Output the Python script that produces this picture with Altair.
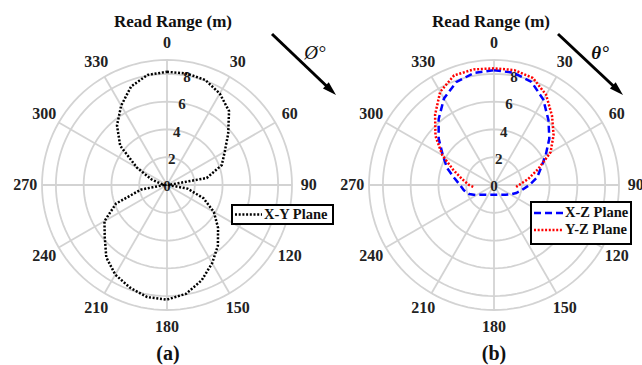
import numpy as np
import pandas as pd
import altair as alt

# ---------------- data ----------------
THETA_XY = list(range(0, 361, 10))
R_XY = [8.15, 8.15, 8.05, 7.6, 6.95, 5.75, 4.8, 4.2, 2.9, 0.1,
        1.5, 2.8, 3.9, 4.8, 5.7, 6.5, 7.3, 7.95, 8.25, 8.2,
        7.85, 7.45, 6.8, 5.85, 5.2, 3.9, 1.9, 0.2, 0.4, 1.2,
        2.5, 4.4, 5.6, 6.6, 7.55, 8.05, 8.15]

THETA_XZ = list(range(0, 361, 10))
R_XZ = [8.27, 8.2, 7.9, 7.1, 6.1, 5.2, 4.3, 3.6, 3.15, 2.55,
        2.05, 1.7, 1.35, 1.1, 0.92, 0.82, 0.75, 0.72, 0.7, 0.72,
        0.75, 0.82, 0.92, 1.08, 1.45, 1.9, 2.2, 2.45, 2.9, 3.6,
        4.25, 5.2, 6.2, 7.2, 7.9, 8.2, 8.27]

THETA_YZ = [-95, -90, -80, -70, -60, -50, -40, -30, -20, -10, 0,
            10, 20, 30, 40, 50, 60, 70, 80, 90, 95]
R_YZ = [1.5, 1.8, 2.3, 3.1, 4.3, 5.5, 6.6, 7.75, 8.4, 8.45, 8.4,
        8.4, 8.2, 7.5, 6.5, 5.6, 4.7, 3.4, 2.5, 1.8, 1.6]

SERIES = ["X-Y Plane", "X-Z Plane", "Y-Z Plane"]
COLORS = ["#000000", "#0000ff", "#ff0000"]
DASHES = [[2, 1.7], [7, 4], [2, 1.7]]

RING_R = [2, 4, 6, 8]
R_MAX = 9
SPOKES = list(range(0, 360, 30))
PANEL_LABELS = ["(a)", "(b)"]
TITLE = "Read Range (m)"

# ---------------- layout ----------------
W, H = 642, 365
K = 125 / 9.0                 # pixels per metre
CXA, CXB, CY = 167, 494, 185  # pixel centres of the two polar plots
OFF = (CXB - CXA) / K         # panel offset in data units
XDOM = [-CXA / K, (W - CXA) / K]
YDOM = [-(H - CY) / K, CY / K]
FONT = "Liberation Serif"


def to_xy(theta, r, off):
    t = np.deg2rad(np.asarray(theta, dtype=float))
    r = np.asarray(r, dtype=float)
    return off + r * np.sin(t), r * np.cos(t)


xs = alt.X("x:Q", scale=alt.Scale(domain=XDOM, nice=False, zero=False), axis=None)
ys = alt.Y("y:Q", scale=alt.Scale(domain=YDOM, nice=False, zero=False), axis=None)

# grid rings
rows = []
ang = np.arange(0, 361, 3)
for p, off in enumerate([0.0, OFF]):
    for rr in RING_R + [R_MAX]:
        gx, gy = to_xy(ang, np.full(len(ang), rr), off)
        for i, (a, b) in enumerate(zip(gx, gy)):
            rows.append({"ring": f"{p}-{rr}", "i": i, "x": a, "y": b})
rings_df = pd.DataFrame(rows)
rings = alt.Chart(rings_df).mark_line(color="#d3d3d3", strokeWidth=1.8).encode(
    x=xs, y=ys, detail="ring:N", order="i:Q")

# spokes
rows = []
for off in [0.0, OFF]:
    x1, y1 = to_xy(SPOKES, np.zeros(len(SPOKES)), off)
    x2, y2 = to_xy(SPOKES, np.full(len(SPOKES), R_MAX), off)
    for a, b, c, d in zip(x1, y1, x2, y2):
        rows.append({"x": a, "y": b, "x2": c, "y2": d})
spokes = alt.Chart(pd.DataFrame(rows)).mark_rule(color="#d3d3d3", strokeWidth=1.8).encode(
    x=xs, y=ys, x2="x2:Q", y2="y2:Q")

# angle labels
rows = []
for off in [0.0, OFF]:
    lx, ly = to_xy(SPOKES, np.full(len(SPOKES), 10.2), off)
    for a, b, s in zip(lx, ly, SPOKES):
        rows.append({"x": a, "y": b, "t": str(s)})
ang_labels = alt.Chart(pd.DataFrame(rows)).mark_text(
    font=FONT, fontWeight="bold", fontSize=16, color="#222222",
    align="center", baseline="middle").encode(x=xs, y=ys, text="t:N")

# ring labels
rows = []
for off in [0.0, OFF]:
    lx, ly = to_xy([10.5] * len(RING_R), [v - 0.1 for v in RING_R], off)
    for a, b, s in zip(lx, ly, RING_R):
        rows.append({"x": a, "y": b, "t": str(s)})
    rows.append({"x": off, "y": -0.05, "t": "0"})
ring_labels = alt.Chart(pd.DataFrame(rows)).mark_text(
    font=FONT, fontWeight="bold", fontSize=15, color="#222222",
    align="center", baseline="middle").encode(x=xs, y=ys, text="t:N")

# data curves
parts = []
for name, th, rr, off in [(SERIES[0], THETA_XY, R_XY, 0.0),
                          (SERIES[1], THETA_XZ, R_XZ, OFF),
                          (SERIES[2], THETA_YZ, R_YZ, OFF)]:
    cx, cy = to_xy(th, rr, off)
    parts.append(pd.DataFrame({"series": name, "i": range(len(th)), "x": cx, "y": cy}))
curves_df = pd.concat(parts, ignore_index=True)
curves = alt.Chart(curves_df).mark_line(strokeWidth=2.5, strokeCap="butt").encode(
    x=xs, y=ys, order="i:Q",
    color=alt.Color("series:N", scale=alt.Scale(domain=SERIES, range=COLORS), legend=None),
    strokeDash=alt.StrokeDash("series:N", scale=alt.Scale(domain=SERIES, range=DASHES), legend=None),
)

one = pd.DataFrame({"a": [0]})

# titles and panel labels
texts = []
for tx, px in [(TITLE, 173), (TITLE, 491)]:
    texts.append(alt.Chart(one).mark_text(font=FONT, fontWeight="bold", fontSize=17,
                                          color="#111111", align="center", baseline="middle")
                 .encode(x=alt.value(px), y=alt.value(22), text=alt.value(tx)))
for tx, px in zip(PANEL_LABELS, [168, 494]):
    texts.append(alt.Chart(one).mark_text(font=FONT, fontWeight="bold", fontSize=20,
                                          color="#111111", align="center", baseline="middle")
                 .encode(x=alt.value(px), y=alt.value(354), text=alt.value(tx)))

# legends
legend_layers = []
for (x0, y0, x1, y1) in [(232, 205, 333, 224), (531, 202, 631, 244)]:
    legend_layers.append(alt.Chart(one).mark_rect(fill="white", stroke="black", strokeWidth=2).encode(
        x=alt.value(x0), x2=alt.value(x1), y=alt.value(y0), y2=alt.value(y1)))
for s, (lx0, lx1, ly) in zip(SERIES, [(235, 262, 214.5), (534, 563, 213), (534, 563, 230)]):
    k = SERIES.index(s)
    legend_layers.append(alt.Chart(one).mark_rule(color=COLORS[k], strokeWidth=2.6,
                                                  strokeDash=DASHES[k], strokeCap="butt").encode(
        x=alt.value(lx0), x2=alt.value(lx1), y=alt.value(ly)))
    legend_layers.append(alt.Chart(one).mark_text(font=FONT, fontWeight="bold", fontSize=14.5,
                                                  color="#111111", align="left", baseline="middle").encode(
        x=alt.value(lx1 + 2), y=alt.value(ly), text=alt.value(s)))

# arrows
arrows = []
for (x0, y0, x1, y1, lab, lx, sty) in [(272, 34, 336, 95, "Ø°", 315, "normal"),
                                       (558, 34, 623, 95, "θ°", 600, "bold")]:
    dx, dy = x1 - x0, y1 - y0
    L = (dx ** 2 + dy ** 2) ** 0.5
    ux, uy = dx / L, dy / L
    arrows.append(alt.Chart(one).mark_rule(color="black", strokeWidth=3).encode(
        x=alt.value(x0), y=alt.value(y0), x2=alt.value(x1 - 8 * ux), y2=alt.value(y1 - 8 * uy)))
    ang_deg = float(np.degrees(np.arctan2(dx, -dy)))
    arrows.append(alt.Chart(one).mark_point(
        shape="M0,-1L0.6,1L-0.6,1Z", filled=True, color="black", opacity=1,
        size=196, angle=ang_deg).encode(
        x=alt.value(x1 - 7 * ux), y=alt.value(y1 - 7 * uy)))
    arrows.append(alt.Chart(one).mark_text(font=FONT, fontStyle="italic", fontWeight=sty,
                                           fontSize=19, color="#111111",
                                           align="center", baseline="middle").encode(
        x=alt.value(lx), y=alt.value(53), text=alt.value(lab)))

chart = alt.layer(rings, spokes, ang_labels, ring_labels, curves,
                  *texts, *legend_layers, *arrows).properties(
    width=W, height=H, padding=0,
    autosize=alt.AutoSizeParams(type="none"),
).configure_view(stroke=None)

chart.save("out.html", embed_options={"renderer": "svg", "actions": False})
